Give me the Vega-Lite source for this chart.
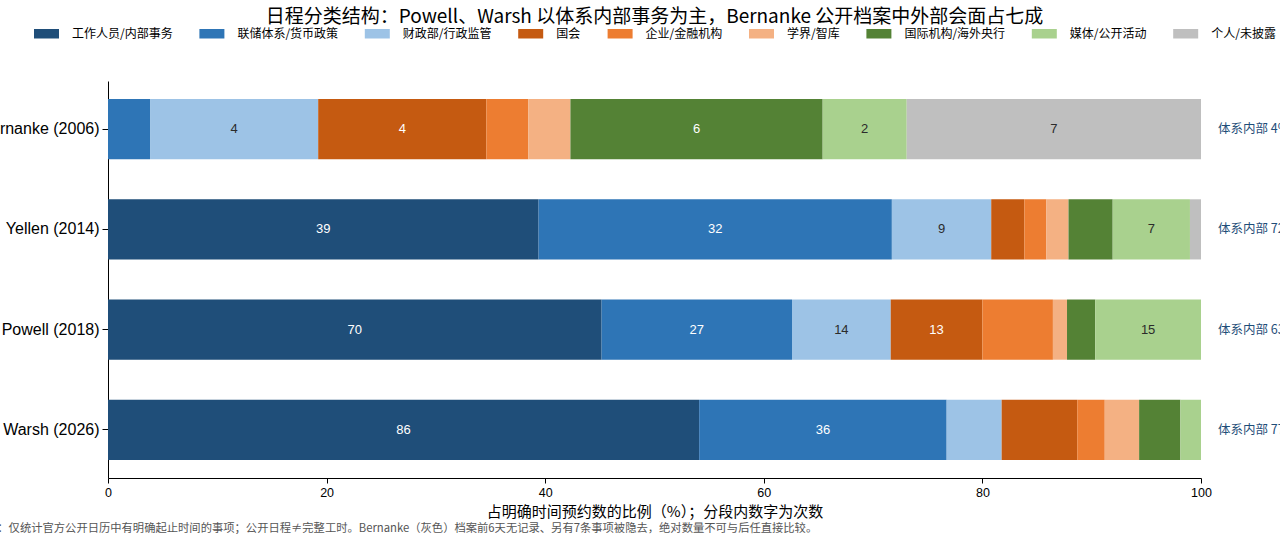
{
  "$schema": "https://vega.github.io/schema/vega-lite/v6.json",
  "width": 1093,
  "height": 397,
  "autosize": {"type": "none"},
  "padding": {"left": 108, "top": 81, "right": 79, "bottom": 67},
  "background": "white",
  "title": {
    "text": "日程分类结构：Powell、Warsh 以体系内部事务为主，Bernanke 公开档案中外部会面占七成",
    "anchor": "middle",
    "font": "Noto Sans CJK SC",
    "fontSize": 19,
    "fontWeight": "normal",
    "color": "#000000",
    "offset": -6
  },
  "config": {
    "view": {"stroke": null},
    "font": "Liberation Sans"
  },
  "datasets": {
    "seg": [
      {"name": "Bernanke (2006)", "cat": "联储体系/货币政策", "count": 1, "ord": 1},
      {"name": "Bernanke (2006)", "cat": "财政部/行政监管", "count": 4, "ord": 2},
      {"name": "Bernanke (2006)", "cat": "国会", "count": 4, "ord": 3},
      {"name": "Bernanke (2006)", "cat": "企业/金融机构", "count": 1, "ord": 4},
      {"name": "Bernanke (2006)", "cat": "学界/智库", "count": 1, "ord": 5},
      {"name": "Bernanke (2006)", "cat": "国际机构/海外央行", "count": 6, "ord": 6},
      {"name": "Bernanke (2006)", "cat": "媒体/公开活动", "count": 2, "ord": 7},
      {"name": "Bernanke (2006)", "cat": "个人/未披露", "count": 7, "ord": 8},
      {"name": "Yellen (2014)", "cat": "工作人员/内部事务", "count": 39, "ord": 0},
      {"name": "Yellen (2014)", "cat": "联储体系/货币政策", "count": 32, "ord": 1},
      {"name": "Yellen (2014)", "cat": "财政部/行政监管", "count": 9, "ord": 2},
      {"name": "Yellen (2014)", "cat": "国会", "count": 3, "ord": 3},
      {"name": "Yellen (2014)", "cat": "企业/金融机构", "count": 2, "ord": 4},
      {"name": "Yellen (2014)", "cat": "学界/智库", "count": 2, "ord": 5},
      {"name": "Yellen (2014)", "cat": "国际机构/海外央行", "count": 4, "ord": 6},
      {"name": "Yellen (2014)", "cat": "媒体/公开活动", "count": 7, "ord": 7},
      {"name": "Yellen (2014)", "cat": "个人/未披露", "count": 1, "ord": 8},
      {"name": "Powell (2018)", "cat": "工作人员/内部事务", "count": 70, "ord": 0},
      {"name": "Powell (2018)", "cat": "联储体系/货币政策", "count": 27, "ord": 1},
      {"name": "Powell (2018)", "cat": "财政部/行政监管", "count": 14, "ord": 2},
      {"name": "Powell (2018)", "cat": "国会", "count": 13, "ord": 3},
      {"name": "Powell (2018)", "cat": "企业/金融机构", "count": 10, "ord": 4},
      {"name": "Powell (2018)", "cat": "学界/智库", "count": 2, "ord": 5},
      {"name": "Powell (2018)", "cat": "国际机构/海外央行", "count": 4, "ord": 6},
      {"name": "Powell (2018)", "cat": "媒体/公开活动", "count": 15, "ord": 7},
      {"name": "Warsh (2026)", "cat": "工作人员/内部事务", "count": 86, "ord": 0},
      {"name": "Warsh (2026)", "cat": "联储体系/货币政策", "count": 36, "ord": 1},
      {"name": "Warsh (2026)", "cat": "财政部/行政监管", "count": 8, "ord": 2},
      {"name": "Warsh (2026)", "cat": "国会", "count": 11, "ord": 3},
      {"name": "Warsh (2026)", "cat": "企业/金融机构", "count": 4, "ord": 4},
      {"name": "Warsh (2026)", "cat": "学界/智库", "count": 5, "ord": 5},
      {"name": "Warsh (2026)", "cat": "国际机构/海外央行", "count": 6, "ord": 6},
      {"name": "Warsh (2026)", "cat": "媒体/公开活动", "count": 3, "ord": 7}
    ],
    "ann": [
      {"name": "Bernanke (2006)", "label": "体系内部 4%"},
      {"name": "Yellen (2014)", "label": "体系内部 72%"},
      {"name": "Powell (2018)", "label": "体系内部 63%"},
      {"name": "Warsh (2026)", "label": "体系内部 77%"}
    ],
    "note": [
      {"text": "注：仅统计官方公开日历中有明确起止时间的事项；公开日程≠完整工时。Bernanke（灰色）档案前6天无记录、另有7条事项被隐去，绝对数量不可与后任直接比较。"}
    ]
  },
  "encoding": {
    "y": {
      "field": "name",
      "type": "nominal",
      "sort": ["Bernanke (2006)", "Yellen (2014)", "Powell (2018)", "Warsh (2026)"],
      "scale": {"paddingInner": 0.4, "paddingOuter": 0.18},
      "axis": {
        "title": null,
        "labelFont": "Liberation Sans",
        "labelFontSize": 16,
        "labelColor": "#000000",
        "domainColor": "#000000",
        "tickColor": "#000000",
        "tickSize": 6,
        "labelPadding": 3
      }
    }
  },
  "layer": [
    {
      "data": {"name": "seg"},
      "mark": {"type": "bar", "strokeWidth": 0},
      "encoding": {
        "x": {
          "field": "count",
          "type": "quantitative",
          "stack": "normalize",
          "scale": {"domain": [0, 1], "nice": false},
          "axis": {
            "values": [0, 0.2, 0.4, 0.6, 0.8, 1],
            "labelExpr": "format(datum.value * 100, 'd')",
            "labelFlush": false,
            "grid": false,
            "title": "占明确时间预约数的比例（%）；分段内数字为次数",
            "titleFont": "Noto Sans CJK SC",
            "titleFontSize": 15,
            "titleFontWeight": "normal",
            "titleColor": "#000000",
            "titlePadding": 6,
            "labelFont": "Liberation Sans",
            "labelFontSize": 12.5,
            "labelColor": "#000000",
            "labelPadding": 3,
            "domainColor": "#000000",
            "tickColor": "#000000",
            "tickSize": 5
          }
        },
        "order": {"field": "ord", "type": "quantitative"},
        "color": {
          "field": "cat",
          "type": "nominal",
          "scale": {
            "domain": ["工作人员/内部事务", "联储体系/货币政策", "财政部/行政监管", "国会", "企业/金融机构", "学界/智库", "国际机构/海外央行", "媒体/公开活动", "个人/未披露"],
            "range": ["#1f4e79", "#2e75b6", "#9dc3e6", "#c55a11", "#ed7d31", "#f4b183", "#548235", "#a9d18e", "#bfbfbf"]
          },
          "legend": {
            "orient": "none",
            "legendX": -74,
            "legendY": -60,
            "direction": "horizontal",
            "columns": 9,
            "title": null,
            "symbolType": "M-1,-0.38H1V0.38H-1Z",
            "symbolSize": 625,
            "symbolStrokeWidth": 0,
            "symbolOpacity": 1,
            "labelFont": "Noto Sans CJK SC",
            "labelFontSize": 12,
            "labelColor": "#000000",
            "labelOffset": 13,
            "columnPadding": 26.4,
            "labelLimit": 300
          }
        }
      }
    },
    {
      "data": {"name": "seg"},
      "transform": [
        {"joinaggregate": [{"op": "sum", "field": "count", "as": "total"}], "groupby": ["name"]}
      ],
      "mark": {"type": "text", "font": "Liberation Sans", "fontSize": 13, "align": "center", "baseline": "middle"},
      "encoding": {
        "x": {"field": "count", "type": "quantitative", "stack": "normalize", "bandPosition": 0.5},
        "order": {"field": "ord", "type": "quantitative"},
        "detail": {"field": "cat", "type": "nominal"},
        "text": {
          "condition": {"test": "datum.count / datum.total >= 0.07", "field": "count", "type": "quantitative"},
          "value": ""
        },
        "color": {
          "condition": {
            "test": "indexof(['工作人员/内部事务', '联储体系/货币政策', '国会', '国际机构/海外央行'], datum.cat) >= 0",
            "value": "#ffffff"
          },
          "value": "#2b2b2b"
        }
      }
    },
    {
      "data": {"name": "ann"},
      "mark": {"type": "text", "font": "Noto Sans CJK SC", "fontSize": 12.5, "align": "left", "baseline": "middle", "dx": 17, "color": "#1f4e79"},
      "encoding": {
        "x": {"datum": 1},
        "text": {"field": "label"}
      }
    },
    {
      "data": {"name": "note"},
      "mark": {"type": "text", "font": "Noto Sans CJK SC", "fontSize": 11.3, "align": "left", "baseline": "middle", "dx": -122, "dy": 99, "color": "#555555"},
      "encoding": {
        "x": {"datum": 0},
        "y": {"datum": "Warsh (2026)"},
        "text": {"field": "text"}
      }
    }
  ]
}
